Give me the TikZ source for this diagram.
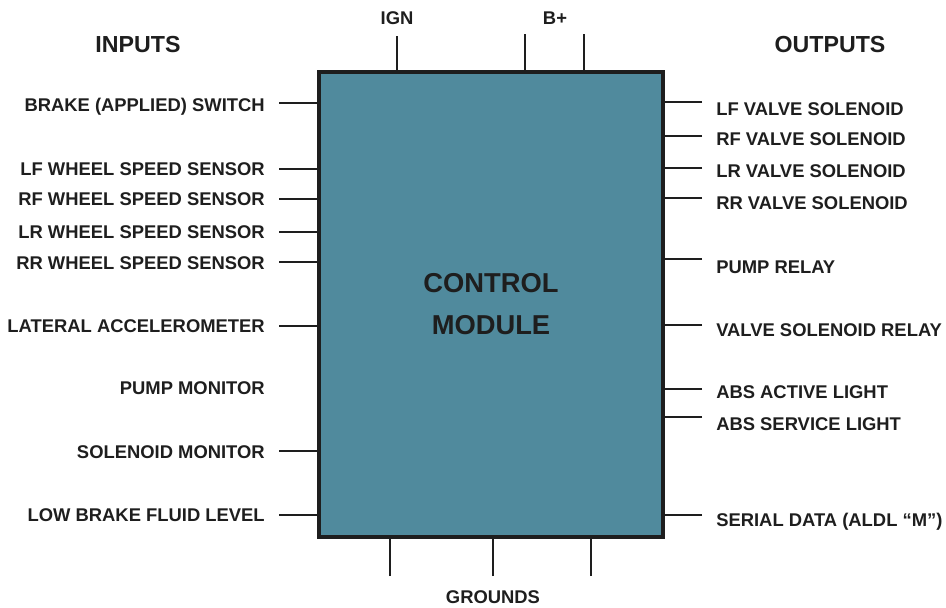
\documentclass[tikz,border=0pt]{standalone}
\usepackage{fontspec}
\setmainfont{Liberation Sans}
\usetikzlibrary{positioning}
\definecolor{modteal}{RGB}{80, 138, 157}
\definecolor{wire}{RGB}{30, 30, 30}

\begin{document}
\begin{tikzpicture}[
        x=0.75pt, y=-0.75pt,
        pin/.style={draw=wire, line width=2.1pt},
        lbl/.style={font=\fontsize{13.8}{16}\selectfont\bfseries, text=wire, inner sep=0pt,
            text height=9.9pt, text depth=0pt},
        hdr/.style={font=\fontsize{17.4}{20}\selectfont\bfseries, text=wire, inner sep=0pt},
        modbox/.style={draw=wire, line width=2.4pt, fill=modteal, inner sep=0pt,
            minimum width=258pt, minimum height=348.75pt, align=center,
            font=\fontsize{20.5}{31.5}\selectfont\bfseries, text=wire}
    ]
    \useasboundingbox (0, 0) rectangle (946, 607);

    % Module body
    \node[modbox] (cm) at (491, 304.5) {CONTROL\\MODULE};

    % Column headings
    \node[hdr] (inputs) at (138, 45) {INPUTS};
    \node[hdr] (outputs) at (830, 45) {OUTPUTS};

    % Power pins on top
    \coordinate (ign) at (397, 36);
    \coordinate (bat1) at (525, 34);
    \coordinate (bat2) at (584, 34);
    \draw[pin] (ign) -- (ign |- cm.north);
    \draw[pin] (bat1) -- (bat1 |- cm.north);
    \draw[pin] (bat2) -- (bat2 |- cm.north);
    \node[lbl] (ignlbl) at (397, 18) {IGN};
    \node[lbl] (batlbl) at (555, 18) {B+};

    % Ground pins below
    \foreach \x/\nm in {390/g1, 493/g2, 591/g3}
    {
        \coordinate (\nm) at (\x, 576);
        \draw[pin] (\nm) -- (\nm |- cm.south);
    }
    \node[lbl] (gndlbl) at (493, 597) {GROUNDS};

    % Inputs (left side)
    \foreach \y/\ty/\nm/\txt/\wired in {
        103/105/brk/BRAKE (APPLIED) SWITCH/1,
        169/169/lfw/LF WHEEL SPEED SENSOR/1,
        199/199/rfw/RF WHEEL SPEED SENSOR/1,
        232/232/lrw/LR WHEEL SPEED SENSOR/1,
        262/263/rrw/RR WHEEL SPEED SENSOR/1,
        326/326/lat/LATERAL ACCELEROMETER/1,
        388/388/pmon/PUMP MONITOR/0,
        451/452/smon/SOLENOID MONITOR/1,
        515/515/fluid/LOW BRAKE FLUID LEVEL/1}
    {
        \node[lbl, anchor=east] (in-\nm) at (265, \ty) {\txt};
        \ifnum\wired=1
            \coordinate (ie-\nm) at (279, \y);
            \draw[pin] (ie-\nm) -- (ie-\nm -| cm.west);
        \fi
    }

    % Outputs (right side) -- wire a little above the text
    \foreach \ly/\ty/\nm/\txt in {
        102/109/lfv/LF VALVE SOLENOID,
        136/139/rfv/RF VALVE SOLENOID,
        168/171/lrv/LR VALVE SOLENOID,
        198/203/rrv/RR VALVE SOLENOID,
        259/267/prly/PUMP RELAY,
        325/330/vsr/VALVE SOLENOID RELAY,
        389/392/act/ABS ACTIVE LIGHT,
        417/424/svc/ABS SERVICE LIGHT,
        515/520/ser/SERIAL DATA (ALDL “M”)}
    {
        \coordinate (oe-\nm) at (702, \ly);
        \draw[pin] (oe-\nm) -- (oe-\nm -| cm.east);
        \node[lbl, anchor=west] (out-\nm) at (716, \ty) {\txt};
    }

\end{tikzpicture}
\end{document}
